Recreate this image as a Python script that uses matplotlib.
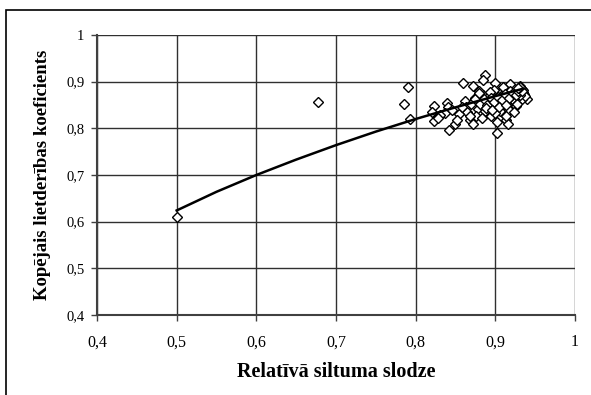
import matplotlib.pyplot as plt
from matplotlib.patches import Rectangle

# measured points
x_data = [0.5, 0.677, 0.79, 0.785, 0.793,
          0.823, 0.820, 0.823, 0.839, 0.840, 0.842, 0.849, 0.837, 0.830, 0.828, 0.845,
          0.859, 0.872, 0.887, 0.884, 0.899, 0.918, 0.931,
          0.862, 0.863, 0.868, 0.872, 0.902, 0.902, 0.914, 0.916, 0.940, 0.935,
          0.865, 0.870, 0.875, 0.878, 0.880, 0.882, 0.885, 0.888, 0.890, 0.892,
          0.895, 0.897, 0.900, 0.903, 0.905, 0.908, 0.910, 0.912, 0.915, 0.918,
          0.920, 0.922, 0.925, 0.928, 0.930, 0.932, 0.934, 0.936,
          0.876, 0.880, 0.884, 0.887, 0.891, 0.894, 0.898, 0.901, 0.906, 0.909,
          0.913, 0.917, 0.921, 0.926, 0.929, 0.933, 0.935, 0.937,
          0.868, 0.874, 0.879, 0.886, 0.893, 0.899, 0.904, 0.911, 0.919, 0.924,
          0.883, 0.889, 0.896, 0.907, 0.914, 0.927, 0.931, 0.855, 0.852, 0.858,
          0.881, 0.886, 0.890, 0.894, 0.898, 0.903, 0.908, 0.912, 0.917, 0.922,
          0.926, 0.929, 0.932, 0.934, 0.931, 0.928, 0.888, 0.896, 0.905, 0.914]
y_data = [0.611, 0.857, 0.889, 0.852, 0.820,
          0.848, 0.835, 0.816, 0.854, 0.846, 0.797, 0.809, 0.833, 0.828, 0.822, 0.840,
          0.897, 0.891, 0.914, 0.904, 0.897, 0.895, 0.891,
          0.859, 0.846, 0.818, 0.809, 0.790, 0.814, 0.818, 0.809, 0.863, 0.878,
          0.835, 0.852, 0.866, 0.841, 0.858, 0.829, 0.872, 0.847, 0.862, 0.836,
          0.855, 0.870, 0.843, 0.860, 0.876, 0.849, 0.832, 0.866, 0.854, 0.880,
          0.844, 0.871, 0.858, 0.884, 0.868, 0.879, 0.885, 0.874,
          0.826, 0.880, 0.850, 0.838, 0.868, 0.826, 0.882, 0.864, 0.838, 0.888,
          0.871, 0.840, 0.862, 0.848, 0.877, 0.862, 0.882, 0.870,
          0.826, 0.862, 0.875, 0.858, 0.877, 0.832, 0.852, 0.858, 0.867, 0.836,
          0.822, 0.855, 0.844, 0.869, 0.826, 0.853, 0.872, 0.830, 0.818, 0.845,
          0.852, 0.863, 0.850, 0.866, 0.857, 0.868, 0.861, 0.874, 0.866, 0.876,
          0.872, 0.881, 0.886, 0.880, 0.889, 0.886, 0.843, 0.839, 0.846, 0.851]

# trend line
x_trend = [0.50, 0.55, 0.60, 0.65, 0.70, 0.75, 0.80, 0.85, 0.90, 0.935]
y_trend = [0.624, 0.664, 0.700, 0.733, 0.764, 0.793, 0.820, 0.845, 0.869, 0.885]

ticks = [0.4, 0.5, 0.6, 0.7, 0.8, 0.9, 1.0]
tick_labels = ["0,4", "0,5", "0,6", "0,7", "0,8", "0,9", "1"]

plt.rcParams['font.family'] = ['Liberation Serif', 'DejaVu Serif']

fig = plt.figure(figsize=(5.91, 3.95), dpi=100)
ax = fig.add_axes([97 / 591, 1 - 315 / 395, (575 - 97) / 591, (315 - 35) / 395])

ax.plot(x_data, y_data, linestyle='none', marker='D', markersize=5,
        markerfacecolor='white', markeredgecolor='black', markeredgewidth=1.0, zorder=3)
ax.plot(x_trend, y_trend, color='black', linewidth=1.8, zorder=4)

ax.set_xlim(0.4, 1.0)
ax.set_ylim(0.4, 1.0)
ax.set_xticks(ticks)
ax.set_xticklabels(tick_labels)
ax.set_yticks(ticks)
ax.set_yticklabels(tick_labels)
ax.grid(True, color='#303030', linewidth=1)
ax.set_axisbelow(True)
for s in ['top', 'right']:
    ax.spines[s].set_visible(False)
for s in ['left', 'bottom']:
    ax.spines[s].set_color('#404040')
    ax.spines[s].set_linewidth(1.5)
ax.tick_params(direction='out', length=4, width=1, color='#404040')
ax.tick_params(axis='x', labelsize=11.5, pad=10)
ax.tick_params(axis='y', labelsize=10.5, pad=5)

ax.set_xlabel("Relatīvā siltuma slodze", fontsize=14.5, fontweight='bold', labelpad=8)
ax.set_ylabel("Kopējais lietderības koeficients", fontsize=13.5, fontweight='bold', labelpad=11)

fig.patches.append(Rectangle((6 / 591, -0.05), 1.2, 1 - 10 / 395 + 0.05, transform=fig.transFigure,
                             fill=False, edgecolor='black', linewidth=1.2))

fig.savefig("out.png", dpi=100)
